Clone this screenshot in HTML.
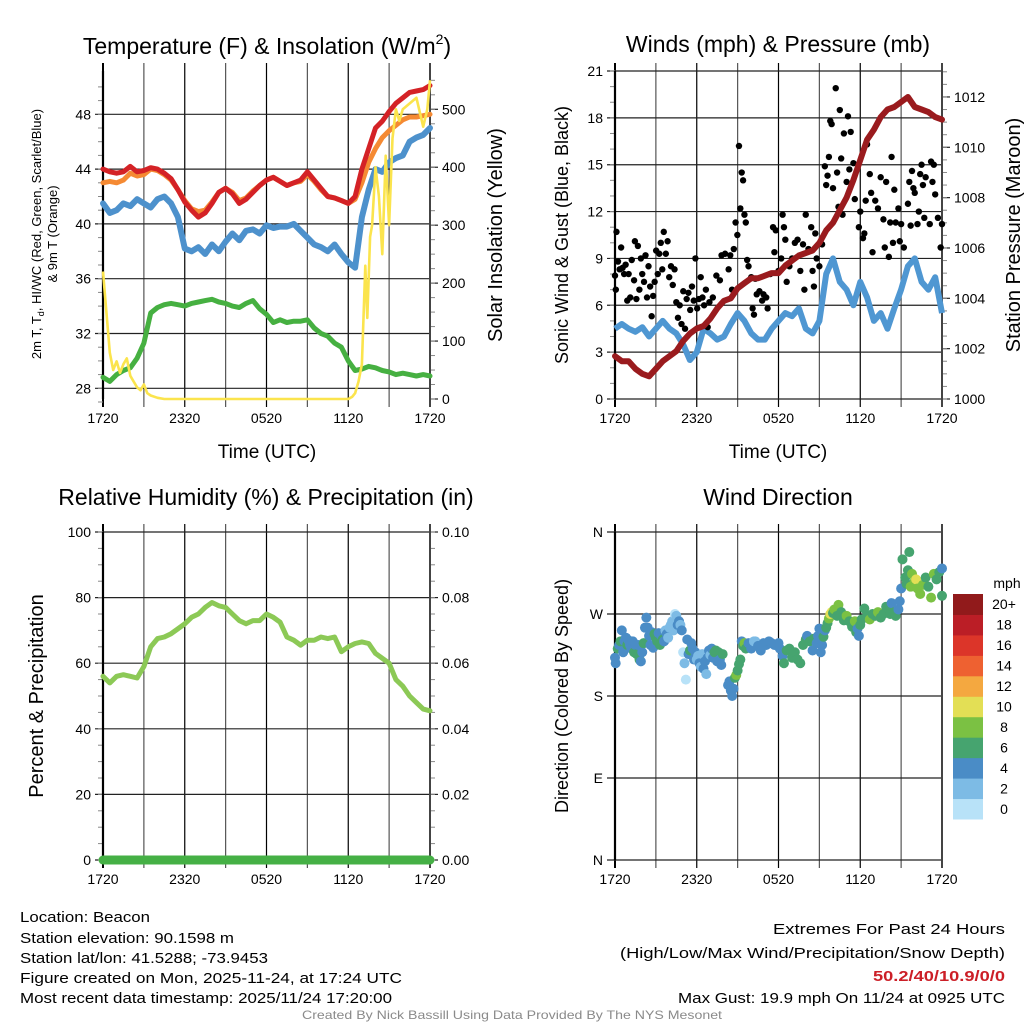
<!DOCTYPE html>
<html><head><meta charset="utf-8"><style>
html,body{margin:0;padding:0;background:#fff;}
svg{display:block;font-family:"Liberation Sans",sans-serif;}
</style></head><body>
<svg id="fig" width="1024" height="1024" viewBox="0 0 1024 1024" xmlns="http://www.w3.org/2000/svg">
<rect width="1024" height="1024" fill="#fff"/>
<g id="p1"></g>
<g id="p2"></g>
<g id="p3"></g>
<g id="p4"></g>

<text x="267" y="54" font-size="23" text-anchor="middle">Temperature (F) &amp; Insolation (W/m<tspan font-size="14" dy="-10">2</tspan><tspan dy="10">)</tspan></text>
<text x="778" y="52" font-size="23" text-anchor="middle">Winds (mph) &amp; Pressure (mb)</text>
<text x="266" y="505" font-size="23" text-anchor="middle">Relative Humidity (%) &amp; Precipitation (in)</text>
<text x="778" y="505" font-size="23" text-anchor="middle">Wind Direction</text>

<text x="267" y="458" font-size="19" text-anchor="middle">Time (UTC)</text>
<text x="778" y="458" font-size="19" text-anchor="middle">Time (UTC)</text>
<text transform="translate(41,234) rotate(-90)" font-size="13" text-anchor="middle">2m T, T<tspan font-size="9" dy="3">d</tspan><tspan dy="-3">, HI/WC (Red, Green, Scarlet/Blue)</tspan></text>
<text transform="translate(57,234) rotate(-90)" font-size="13" text-anchor="middle">&amp; 9m T (Orange)</text>
<text transform="translate(502,235) rotate(-90)" font-size="20" text-anchor="middle">Solar Insolation (Yellow)</text>
<text transform="translate(568,235) rotate(-90)" font-size="18" text-anchor="middle">Sonic Wind &amp; Gust (Blue, Black)</text>
<text transform="translate(1020,235) rotate(-90)" font-size="20" text-anchor="middle">Station Pressure (Maroon)</text>
<text transform="translate(43,696) rotate(-90)" font-size="20" text-anchor="middle">Percent &amp; Precipitation</text>
<text transform="translate(568,696) rotate(-90)" font-size="18" text-anchor="middle">Direction (Colored By Speed)</text>

<g id="info" font-size="15">
<text x="20" y="922" textLength="130" lengthAdjust="spacingAndGlyphs">Location: Beacon</text>
<text x="20" y="943" textLength="214" lengthAdjust="spacingAndGlyphs">Station elevation: 90.1598 m</text>
<text x="20" y="963" textLength="248" lengthAdjust="spacingAndGlyphs">Station lat/lon: 41.5288; -73.9453</text>
<text x="20" y="983" textLength="382" lengthAdjust="spacingAndGlyphs">Figure created on Mon, 2025-11-24, at 17:24 UTC</text>
<text x="20" y="1003" textLength="372" lengthAdjust="spacingAndGlyphs">Most recent data timestamp: 2025/11/24 17:20:00</text>
<text x="1005" y="934" text-anchor="end" textLength="232" lengthAdjust="spacingAndGlyphs">Extremes For Past 24 Hours</text>
<text x="1005" y="958" text-anchor="end" textLength="385" lengthAdjust="spacingAndGlyphs">(High/Low/Max Wind/Precipitation/Snow Depth)</text>
<text x="1005" y="981" text-anchor="end" fill="#cc1f27" font-weight="bold" textLength="132" lengthAdjust="spacingAndGlyphs">50.2/40/10.9/0/0</text>
<text x="1005" y="1003" text-anchor="end" textLength="327" lengthAdjust="spacingAndGlyphs">Max Gust: 19.9 mph On 11/24 at 0925 UTC</text>
<text x="512" y="1019" text-anchor="middle" font-size="12" fill="#8a8a8a" textLength="420" lengthAdjust="spacingAndGlyphs">Created By Nick Bassill Using Data Provided By The NYS Mesonet</text>
</g>
</svg>
<script>
// ---------- data ----------
const hours = [0,0.5,1,1.5,2,2.5,3,3.5,4,4.5,5,5.5,6,6.5,7,7.5,8,8.5,9,9.5,10,10.5,11,11.5,12,12.5,13,13.5,14,14.5,15,15.5,16,16.5,17,17.5,18,18.5,19,19.5,20,20.5,21,21.5,22,22.5,23,23.5,24];
const xTickLabels = ["1720","2320","0520","1120","1720"];
const tempRed = [44,43.8,43.7,43.8,44.2,43.8,43.9,44.1,44.0,43.7,43.3,42.5,41.6,41.0,40.5,40.8,41.5,42.3,42.6,42.2,41.5,41.8,42.3,42.8,43.2,43.4,43.1,42.8,43.0,43.2,43.8,43.2,42.6,42.0,41.9,41.7,41.5,42.0,44.0,45.5,47.0,47.5,48.2,48.8,49.2,49.6,49.7,49.8,50.1];
const temp9m = [43.0,43.1,43.0,43.2,43.7,43.5,43.6,44.0,43.9,43.6,43.2,42.5,41.7,41.1,40.9,41.0,41.6,42.3,42.6,42.3,41.7,41.9,42.4,42.8,43.2,43.4,43.1,42.8,43.0,43.1,43.6,43.1,42.5,42.0,41.9,41.7,41.5,41.8,43.0,44.5,45.5,46.3,46.8,47.2,47.6,47.8,47.8,47.9,48.0];
const windChill = [41.5,40.8,41.0,41.5,41.3,41.8,41.5,41.2,41.8,42.0,41.5,40.5,38.2,38.0,38.3,37.8,38.5,38.0,38.7,39.3,38.8,39.5,39.6,39.3,39.9,39.7,39.8,39.8,40.0,39.5,39.0,38.5,38.3,38.0,38.5,37.8,37.2,36.8,40.5,42.5,44.0,43.8,44.5,44.8,45.0,46.0,46.3,46.5,47.0];
const dewPoint = [28.8,28.5,29.0,29.3,29.5,30.2,31.3,33.5,33.9,34.1,34.2,34.1,34.0,34.2,34.3,34.4,34.5,34.3,34.2,34.0,33.9,34.2,34.4,33.8,33.4,32.8,33.0,32.8,32.9,32.9,33.0,32.4,32.0,31.8,31.3,31.0,30.0,29.3,29.4,29.6,29.5,29.3,29.2,29.0,29.1,29.0,28.9,29.0,28.9];
const solarTimes = [0,0.25,0.5,0.75,1,1.25,1.5,1.75,2,2.25,2.5,2.75,3,3.25,3.5,4,4.5,18,18.3,18.5,18.75,19,19.25,19.4,19.6,19.75,20,20.25,20.5,20.75,21,21.25,21.5,21.75,22,22.5,23,23.5,23.8,24];
const solarValues = [220,150,80,50,65,45,60,70,40,30,20,15,25,10,6,2,0,0,4,10,30,60,230,140,280,300,400,350,250,420,300,450,500,480,500,510,520,470,500,550];
const windSpeed = [4.5,4.8,4.5,4.3,4.6,4.0,4.5,5.0,4.5,4.2,3.5,2.5,3.0,4.5,4.2,3.8,4.0,4.8,5.5,5.0,4.2,3.8,3.8,4.5,5.0,5.5,5.3,5.8,4.5,4.2,5.0,8.0,9.0,7.5,7.0,6.0,7.5,6.5,5.0,5.5,4.5,5.8,7.0,8.5,9.0,7.5,7.0,7.8,5.5];
const pressure = [1001.7,1001.5,1001.5,1001.2,1001.0,1000.9,1001.2,1001.5,1001.7,1001.9,1002.3,1002.6,1002.8,1002.9,1003.2,1003.6,1003.9,1004.0,1004.4,1004.6,1004.8,1004.8,1004.9,1005.0,1005.0,1005.3,1005.5,1005.7,1005.8,1005.9,1006.2,1006.7,1007.0,1007.5,1008.0,1008.7,1009.5,1010.3,1010.7,1011.2,1011.5,1011.6,1011.8,1012.0,1011.6,1011.5,1011.4,1011.2,1011.1];
const gustTimes = [0,0.06,0.11,0.22,0.34,0.45,0.56,0.67,0.78,0.9,1.0,1.12,1.23,1.4,1.46,1.57,1.68,1.79,1.9,2.0,2.13,2.24,2.35,2.46,2.58,2.69,2.8,2.91,3.02,3.14,3.25,3.36,3.47,3.58,3.73,3.86,3.98,4.11,4.24,4.37,4.5,4.62,4.75,4.88,5.01,5.14,5.26,5.39,5.52,5.65,5.78,5.9,6.03,6.16,6.29,6.42,6.54,6.67,6.8,6.93,7.18,7.44,7.7,7.82,8.08,8.34,8.46,8.59,8.72,8.85,8.98,9.1,9.2,9.3,9.4,9.5,9.6,9.7,9.8,10.0,10.1,10.2,10.3,10.4,10.6,10.8,10.9,11.1,11.2,11.4,11.6,11.7,11.8,12.0,12.2,12.3,12.4,12.5,12.6,12.8,13.0,13.2,13.4,13.6,13.8,13.9,14.0,14.2,14.4,14.5,14.6,14.7,14.8,15.0,15.2,15.4,15.5,15.6,15.7,15.8,15.9,16.0,16.2,16.3,16.4,16.5,16.6,16.7,16.8,17.0,17.1,17.2,17.3,17.5,17.6,17.9,18.0,18.2,18.3,18.4,18.5,18.7,18.8,18.9,19.1,19.3,19.5,19.7,19.8,19.9,20.1,20.2,20.3,20.4,20.5,20.6,20.8,20.9,21.0,21.2,21.5,21.6,21.7,21.8,21.9,22.0,22.2,22.3,22.4,22.5,22.6,22.7,22.8,23.1,23.2,23.3,23.4,23.5,23.7,23.9,24.0];
const gustValues = [7.9,7.0,10.7,8.8,8.3,9.7,8.4,8.0,8.6,6.3,8.0,6.5,8.9,7.6,10.1,6.4,9.8,7.0,9.0,8.0,7.5,9.2,6.5,8.5,7.2,5.3,6.6,7.5,9.5,8.0,9.3,10.0,8.3,10.7,9.3,10.1,7.8,8.5,7.3,8.3,6.2,5.2,6.0,4.8,6.9,4.5,6.4,6.8,5.7,7.2,6.3,9.0,5.8,6.4,7.8,6.5,6.0,7.0,4.6,6.2,6.5,7.9,7.6,9.2,9.3,8.3,9.2,7.0,9.6,11.3,10.5,16.2,12.2,14.5,14.0,11.8,11.3,8.9,8.5,7.8,5.8,5.4,7.7,6.7,6.9,6.3,6.7,6.5,5.8,8.0,11.0,9.4,10.8,8.2,9.0,11.8,11.0,10.2,7.5,8.5,9.0,10.0,10.2,8.2,9.9,7.0,11.8,9.6,11.0,8.2,7.2,10.6,9.0,8.5,9.9,14.9,13.7,14.3,15.5,17.8,17.6,13.5,19.9,14.5,12.3,18.5,15.4,11.8,17.0,13.9,18.1,14.7,17.1,15.1,12.8,11.0,12.0,10.3,10.6,12.7,16.3,14.4,13.2,9.4,12.7,12.2,14.2,11.5,9.7,13.9,9.1,11.3,15.5,10.0,13.4,11.3,12.2,10.1,11.2,9.7,12.5,13.9,11.1,14.6,13.5,13.2,11.2,12.0,14.4,15.0,13.7,11.6,14.2,11.2,15.2,13.9,15.0,13.1,11.6,9.7,11.2];
const rhValues = [56,54,56,56.5,56,55.5,59,65,67.5,68,69,70.5,72,74,75,77,78.5,77.5,77,75,73,72,73,73,75,74,72.5,68,67,65.5,67,67,68,67.5,68,63.5,65,66,66.5,66,63,61.5,60,55,53,50,48,46,45.5];
const precipValues = [0,0,0,0,0,0,0,0,0,0,0,0,0,0,0,0,0,0,0,0,0,0,0,0,0,0,0,0,0,0,0,0,0,0,0,0,0,0,0,0,0,0,0,0,0,0,0,0,0];
const dirTimes = [0.0,0.05,0.2,0.3,0.4,0.5,0.6,0.7,0.8,0.9,1.0,1.1,1.2,1.3,1.4,1.5,1.6,1.7,1.8,1.9,2.0,2.1,2.2,2.3,2.4,2.5,2.6,2.7,2.8,2.9,3.0,3.1,3.2,3.3,3.4,3.5,3.6,3.7,3.8,3.9,4.0,4.1,4.2,4.3,4.4,4.5,4.6,4.7,4.8,4.9,5.0,5.1,5.2,5.3,5.4,5.5,5.6,5.7,5.8,5.9,6.0,6.1,6.2,6.3,6.4,6.5,6.6,6.7,6.8,6.9,7.0,7.1,7.2,7.3,7.4,7.5,7.6,7.7,7.8,7.9,8.3,8.4,8.5,8.6,8.7,8.8,8.9,9.0,9.1,9.2,9.3,9.4,9.5,9.6,9.8,10.0,10.2,10.3,10.5,10.7,10.9,11.1,11.3,11.5,11.7,12.0,12.1,12.3,12.4,12.6,12.8,13.0,13.2,13.4,13.6,13.8,14.0,14.1,14.3,14.5,14.6,14.8,14.9,15.0,15.1,15.2,15.3,15.4,15.5,15.6,15.7,15.8,15.9,16.0,16.1,16.3,16.4,16.6,16.8,17.0,17.2,17.4,17.6,17.7,17.8,17.9,18.0,18.1,18.3,18.5,18.7,18.9,19.1,19.3,19.5,19.7,19.9,20.1,20.2,20.3,20.5,20.6,20.8,20.9,21.0,21.1,21.3,21.4,21.5,21.6,21.7,21.8,22.0,22.1,22.2,22.4,22.6,22.8,23.0,23.2,23.4,23.6,23.8,24.0,24.0];
const dirValues = [222,216,232,236,240,252,228,240,244,236,241,236,232,240,228,236,226,236,220,218,228,238,255,266,255,246,236,250,233,248,244,240,249,236,246,242,240,252,248,244,255,258,262,252,270,268,258,262,258,252,228,216,198,242,226,230,238,232,220,228,220,224,216,212,226,210,218,204,222,230,225,232,222,228,230,218,228,220,214,226,192,196,186,180,188,200,203,208,215,220,240,235,238,232,238,232,240,240,235,230,238,236,240,238,236,238,232,224,216,230,232,222,228,220,216,236,242,246,240,230,243,238,246,254,228,236,245,252,255,260,265,270,272,271,275,268,280,272,263,268,262,256,262,250,254,246,258,264,276,268,264,270,268,272,266,270,278,276,270,282,272,268,275,284,298,330,310,303,318,338,300,314,306,308,298,292,302,310,300,288,314,308,316,320,290];
const dirSpeeds = [5,5,7,5,7,5,5,5,5,7,5,5,5,5,7,5,7,5,7,5,5,7,5,5,5,5,5,5,5,7,7,7,5,7,5,7,5,3,5,3,3,3,3,3,1,3,5,5,3,5,1,3,1,5,5,7,5,5,5,5,3,3,5,3,3,5,5,3,5,5,3,5,5,7,7,5,7,5,5,7,5,5,5,5,5,7,9,7,7,7,5,7,9,7,5,5,3,3,5,5,5,5,5,5,5,5,5,5,7,7,7,7,7,7,7,7,7,5,7,5,7,5,5,5,5,5,7,5,7,7,9,11,11,7,9,7,9,7,7,9,7,7,9,7,5,5,7,7,7,7,9,7,7,9,7,7,7,7,7,5,7,7,5,5,5,7,7,7,7,7,9,9,9,11,9,9,9,7,7,9,9,7,7,5,7];
const speedBinLabels = ["0","2","4","6","8","10","12","14","16","18","20+"];
const speedBinColors = ["#b8e2f8","#7dbbe5","#4a8cc6","#46a46f","#7bc143","#e3df55","#f4a840","#ee6131","#dc3529","#bb1e26","#911a1b"];

// ---------- helpers ----------
const NS="http://www.w3.org/2000/svg";
function mk(parent, tag, attrs){ const e=document.createElementNS(NS,tag); for(const k in attrs) e.setAttribute(k,attrs[k]); parent.appendChild(e); return e; }

function makeAxes(g, box, leftTicks, leftFmt, rightTicks, rightFmt, leftMinor, rightMinor){
  const {x0,x1,y0,y1}=box;
  for(let h=0; h<=24; h+=3){
    const x=x0+h/24*(x1-x0);
    const l=mk(g,'line',{x1:x,x2:x,y1:y0-8,y2:y1+8,stroke:(h%6===0)?'#000':'#555','stroke-width':(h===0?2:1.2)});
    
    
  }
  leftTicks.forEach(v=>{
    const y=box.ly(v);
    const l=mk(g,'line',{x1:x0-8,x2:x1,y1:y,y2:y,stroke:'#222','stroke-width':1.2});
    
    
    const t=mk(g,'text',{x:x0-12,y:y+5,'font-size':14,'text-anchor':'end'});
    t.textContent=leftFmt(v);
    
    
  });
  leftMinor.forEach(v=>{
    const y=box.ly(v);
    const l=mk(g,'line',{x1:x0-5,x2:x0,y1:y,y2:y,stroke:'#888','stroke-width':1});
    
    
  });
  if(rightTicks){
    rightTicks.forEach(v=>{
      const y=box.ry(v);
      const l=mk(g,'line',{x1:x1,x2:x1+8,y1:y,y2:y,stroke:'#222','stroke-width':1.2});
      
      
      const t=mk(g,'text',{x:x1+12,y:y+5,'font-size':14,'text-anchor':'start'});
      t.textContent=rightFmt(v);
      
      
    });
    rightMinor.forEach(v=>{
      const y=box.ry(v);
      const l=mk(g,'line',{x1:x1,x2:x1+5,y1:y,y2:y,stroke:'#888','stroke-width':1});
      
      
    });
  }
  const bl=mk(g,'line',{x1:x0,x2:x0,y1:y0,y2:y1,stroke:'#000','stroke-width':2.2});
  
  
  const br=mk(g,'line',{x1:x1,x2:x1,y1:y0-8,y2:y1+8,stroke:'#444','stroke-width':2});
  
  
  xTickLabels.forEach((s,i)=>{
    const x=x0+i*6/24*(x1-x0);
    const t=mk(g,'text',{x:x,y:y1+24,'font-size':14,'text-anchor':'middle'});
    t.textContent=s;
    
    
  });
}
function pathD(ts, vs, fx, fy){ return ts.map((t,i)=>(i?'L':'M')+fx(t).toFixed(1)+','+fy(vs[i]).toFixed(1)).join(''); }
function range(a,b,s){ const r=[]; for(let v=a; v<=b+1e-9; v+=s) r.push(+v.toFixed(4)); return r; }

// ---------- panel 1 ----------
(function(){
  const g=document.getElementById('p1');
  const box={x0:103,x1:430,y0:71,y1:399};
  const ly=v=>388.3-(v-28)*13.7;
  const ry=v=>399-v*0.5794;
  box.ly=ly; box.ry=ry;
  const fx=t=>box.x0+t/24*(box.x1-box.x0);
  makeAxes(g,box,[28,32,36,40,44,48],v=>String(v),[0,100,200,300,400,500],v=>String(v),range(27,50,1),range(0,550,25));
  const ly2=v=>Math.min(Math.max(ly(v),box.y0),box.y1);
  const series=[[dewPoint,'#46b041','dew-point-line',5],[windChill,'#4d91cc','wind-chill-line',6],[temp9m,'#f58a33','temp-9m-line',5],[tempRed,'#d42226','temp-2m-line',5]];
  series.forEach(([vals,col,name,sw])=>{
    const p=mk(g,'path',{d:pathD(hours,vals,fx,ly2),fill:'none',stroke:col,'stroke-width':sw,'stroke-linejoin':'round','stroke-linecap':'round'});
    
    
  });
  const s=mk(g,'path',{d:pathD(solarTimes,solarValues,fx,v=>Math.max(ry(v),box.y0)),fill:'none',stroke:'#fbe44d','stroke-width':2.6,'stroke-linejoin':'round'});
  
  
})();

// ---------- panel 2 ----------
(function(){
  const g=document.getElementById('p2');
  const box={x0:615,x1:942,y0:71,y1:399};
  const ly=v=>399-v*(328/21);
  const ry=v=>399-(v-1000)*25.17;
  box.ly=ly; box.ry=ry;
  const fx=t=>box.x0+t/24*(box.x1-box.x0);
  makeAxes(g,box,[0,3,6,9,12,15,18,21],v=>String(v),[1000,1002,1004,1006,1008,1010,1012],v=>String(v),range(0,21,1),range(1000,1013,0.5));
  const w=mk(g,'path',{d:pathD(hours,windSpeed,fx,ly),fill:'none',stroke:'#4f97d2','stroke-width':6,'stroke-linejoin':'round'});
  
  
  gustTimes.forEach((t,i)=>{
    const c=mk(g,'circle',{cx:fx(t),cy:ly(gustValues[i]),r:3.2,fill:'#000'});
    
    
  });
  const p=mk(g,'path',{d:pathD(hours,pressure,fx,ry),fill:'none',stroke:'#9a1b1e','stroke-width':6,'stroke-linejoin':'round','stroke-linecap':'round'});
  
  
})();

// ---------- panel 3 ----------
(function(){
  const g=document.getElementById('p3');
  const box={x0:103,x1:430,y0:532,y1:860};
  const ly=v=>860-v*3.28;
  const ry=v=>860-v*3280;
  box.ly=ly; box.ry=ry;
  const fx=t=>box.x0+t/24*(box.x1-box.x0);
  makeAxes(g,box,[0,20,40,60,80,100],v=>String(v),[0,0.02,0.04,0.06,0.08,0.1],v=>v.toFixed(2),range(0,100,5),range(0,0.1,0.005));
  const pr=mk(g,'path',{d:pathD(hours,precipValues,fx,ry),fill:'none',stroke:'#45b045','stroke-width':9,'stroke-linecap':'round'});
  
  
  const rh=mk(g,'path',{d:pathD(hours,rhValues,fx,ly),fill:'none',stroke:'#8cc956','stroke-width':5,'stroke-linejoin':'round','stroke-linecap':'round'});
  
  
})();

// ---------- panel 4 ----------
(function(){
  const g=document.getElementById('p4');
  const box={x0:615,x1:942,y0:532,y1:860};
  const ly=v=>860-v*(328/360);
  box.ly=ly;
  const fx=t=>box.x0+t/24*(box.x1-box.x0);
  const dirLabels=['N','E','S','W','N'];
  makeAxes(g,box,[0,90,180,270,360],v=>dirLabels[v/90],null,null,[],[]);
  const binOf=s=>Math.min(10,Math.max(0,Math.floor(s/2)));
  dirTimes.forEach((t,i)=>{
    const c=mk(g,'circle',{cx:fx(t),cy:ly(dirValues[i]),r:5,fill:speedBinColors[binOf(dirSpeeds[i])]});
    
    
  });
  const cb=mk(g,'g',{});
  
  
  const top=594, h=225/11;
  speedBinColors.forEach((col,i)=>{
    const y=top+(10-i)*h;
    const r=mk(cb,'rect',{x:953,y:y,width:30,height:h+0.5,fill:col});
    
    
    const t=mk(cb,'text',{x:1004,y:y+h/2+5,'font-size':14,'text-anchor':'middle'});
    t.textContent=speedBinLabels[i];
    
    
  });
  const u=mk(cb,'text',{x:1007,y:588,'font-size':14,'text-anchor':'middle'});
  u.textContent='mph';
  
  
})();
</script>
</body></html>
